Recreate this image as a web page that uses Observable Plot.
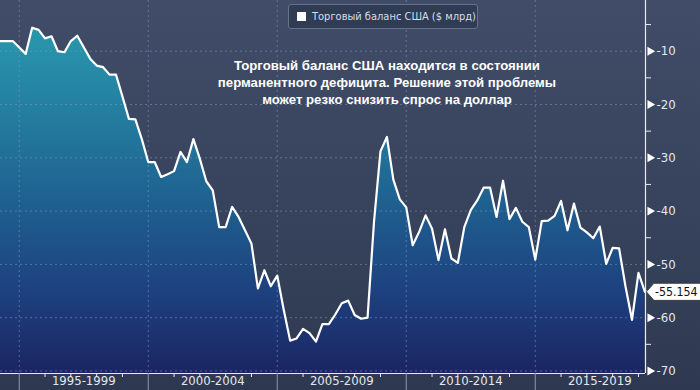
<!DOCTYPE html>
<html><head><meta charset="utf-8">
<script src="https://cdn.jsdelivr.net/npm/d3@7"></script>
<script src="https://cdn.jsdelivr.net/npm/@observablehq/plot@0.6"></script>
<style>
html,body{margin:0;padding:0;background:#2f3a52;}
#wrap{position:relative;width:700px;height:390px;overflow:hidden;}
#wrap svg{display:block;}
.legend{position:absolute;left:288px;top:4px;width:190px;height:25px;box-sizing:border-box;border:1px solid #66718c;border-radius:3px;background:#303b54;font:11px "DejaVu Sans Condensed","DejaVu Sans",sans-serif;font-stretch:condensed;color:#d9dde6;display:flex;align-items:center;white-space:nowrap;}
.legend .sw{width:9px;height:9px;background:#fff;margin-left:8px;margin-right:6px;flex:none;}
.note{position:absolute;left:187px;width:400px;top:57px;text-align:center;font:bold 13.2px "Liberation Sans",Arial,sans-serif;color:#fff;line-height:17px;}
</style></head>
<body>
<div id="wrap">
  <div id="chart"></div>
  <div class="legend"><span class="sw"></span><span id="legText"></span></div>
  <div class="note" id="note"></div>
</div>
<script>
// ---- data ----
const seriesName = "Торговый баланс США ($ млрд)";
const noteLines = [
  "Торговый баланс США находится в состоянии",
  "перманентного дефицита. Решение этой проблемы",
  "может резко снизить спрос на доллар"
];
const startYear = 1994.25;   // first quarter shown
const stepYears = 0.25;      // quarterly observations
const values = [
  -8.1, -8.1, -8.1, -9.3, -10.5, -5.6, -6.0, -7.6, -7.2, -10.0,
  -10.2, -8.1, -7.1, -9.25, -11.4, -12.7, -13.0, -14.4, -14.4, -18.5,
  -22.7, -22.8, -26.5, -30.8, -30.8, -33.6, -33.1, -32.5, -28.9, -30.8,
  -26.5, -30.2, -34.4, -36.1, -43.0, -43.0, -39.2, -41.1, -43.6, -46.1,
  -54.5, -51.1, -54.1, -52.1, -58.5, -64.3, -63.9, -62.1, -62.9, -64.5,
  -61.2, -61.2, -59.4, -57.3, -56.8, -59.5, -60.2, -60.0, -42.0, -28.8,
  -26.1, -34.1, -37.8, -39.3, -46.4, -43.9, -40.8, -43.3, -49.2, -43.4,
  -48.9, -49.7, -43.0, -39.8, -38.0, -35.6, -35.6, -41.1, -34.3, -41.5,
  -39.4, -42.0, -43.0, -49.1, -41.9, -41.8, -40.9, -38.1, -43.6, -38.6,
  -43.1, -44.0, -45.1, -42.9, -49.9, -46.9, -47.0, -54.2, -60.4, -51.6,
  -55.154
];
const yMajorTicks = [-10, -20, -30, -40, -50, -60, -70];
const yMinorTicks = [-5, -15, -25, -35, -45, -55, -65];
const xSeparators = [1995, 2000, 2005, 2010, 2015];
const xYearTicks = [1996, 1997, 1998, 1999, 2001, 2002, 2003, 2004, 2006, 2007, 2008, 2009, 2011, 2012, 2013, 2014, 2016, 2017, 2018, 2019];
const xTickLabels = ["1995-1999", "2000-2004", "2005-2009", "2010-2014", "2015-2019"];
const xLabelPositions = [1997.5, 2002.5, 2007.5, 2012.5, 2017.5];
const xDomain = [1994.273, 2019.273];
const yDomain = [-70.47, -0.49];

// ---- build ----
document.getElementById("legText").textContent = seriesName;
document.getElementById("note").innerHTML = noteLines.join("<br>");

const data = values.map((v, i) => ({t: startYear + i * stepYears, v}));
const last = data[data.length - 1];
const labelMap = new Map(xLabelPositions.map((p, i) => [p, xTickLabels[i]]));

const tagSymbol = {
  draw(ctx) {
    ctx.moveTo(1.5, 0);
    ctx.lineTo(9, -8.5);
    ctx.lineTo(57, -8.5);
    ctx.lineTo(57, 8.5);
    ctx.lineTo(9, 8.5);
    ctx.closePath();
  }
};

const font = '"DejaVu Sans Condensed","DejaVu Sans",sans-serif';
const txt = "#e4e7ee";

const plot = Plot.plot({
  width: 700, height: 390,
  marginLeft: 0, marginRight: 55, marginTop: 0, marginBottom: 17,
  x: {domain: xDomain, axis: null},
  y: {domain: yDomain, axis: null},
  style: {
    background: "linear-gradient(#414c68 0%, #37425c 55%, #2e3951 100%)",
    fontFamily: font, fontSize: "13px", color: txt, overflow: "visible", fontStretch: "condensed"
  },
  marks: [
    Plot.areaY(data, {x: "t", y1: yDomain[0], y2: "v", fill: "url(#areaGrad)", clip: true}),
    Plot.ruleY(yMajorTicks, {stroke: "#8595bd", strokeOpacity: 0.55, strokeDasharray: "2,3"}),
    Plot.ruleX(xSeparators, {stroke: "#8595bd", strokeOpacity: 0.55, strokeDasharray: "2,3"}),
    Plot.lineY(data, {x: "t", y: "v", stroke: "white", strokeWidth: 2.2, clip: true}),
    Plot.ruleY([yDomain[0]], {stroke: "#e8eaf0", strokeWidth: 1.2}),
    Plot.ruleX([xDomain[1]], {stroke: "#e8eaf0", strokeWidth: 1.2}),
    // right axis
    Plot.axisY(yMinorTicks, {anchor: "right", tickSize: 5, tickFormat: () => "", stroke: "#e8eaf0", label: null}),
    Plot.dot(yMajorTicks, {x: xDomain[1], y: d => d, symbol: "triangle", r: 3.3, fill: "white", rotate: 90, dx: 4.5}),
    Plot.axisY(yMajorTicks, {anchor: "right", tickSize: 0, tickPadding: 11, tickFormat: d => `${d}`, fill: txt, fontSize: 13, label: null}),
    // bottom axis
    Plot.axisX(xSeparators, {anchor: "bottom", tickSize: 17, tickFormat: () => "", stroke: "#8d97ad", label: null}),
    Plot.axisX(xYearTicks, {anchor: "bottom", tickSize: 4, tickFormat: () => "", stroke: "#e8eaf0", label: null}),
    Plot.axisX(xLabelPositions, {anchor: "bottom", tickSize: 0, tickPadding: 2, tickFormat: d => labelMap.get(d), fill: txt, fontSize: 13, label: null}),
    // last value tag
    Plot.dot([last], {x: "t", y: "v", symbol: tagSymbol, fill: "white", stroke: "#333", strokeWidth: 0.8}),
    Plot.text([last], {x: "t", y: "v", text: d => d.v.toFixed(3), dx: 10, textAnchor: "start", fill: "#111", fontSize: 12.3})
  ]
});

const defs = d3.select(plot).insert("defs", ":first-child");
const g = defs.append("linearGradient").attr("id", "areaGrad")
  .attr("gradientUnits", "userSpaceOnUse").attr("x1", 0).attr("y1", 0).attr("x2", 0).attr("y2", 373);
[[0, "#2a9cb2"], [0.12, "#2893ab"], [0.5, "#1f6693"], [0.78, "#1d417f"], [1, "#1b2563"]]
  .forEach(([o, c]) => g.append("stop").attr("offset", o).attr("stop-color", c));

document.getElementById("chart").appendChild(plot);
</script>
</body></html>
